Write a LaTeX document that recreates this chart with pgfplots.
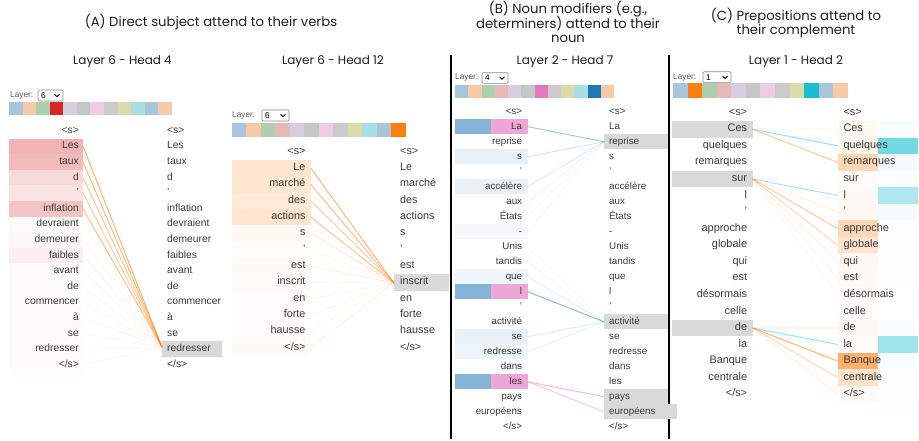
\documentclass[border=0pt]{standalone}
\usepackage{pgfplots}
\pgfplotsset{compat=1.18}
\usepackage{fontspec}
\setmainfont{Liberation Sans}
\newfontfamily\titlefont{Poppins}
\definecolor{tblue}{HTML}{1F77B4}
\definecolor{torange}{HTML}{FF7F0E}
\definecolor{tred}{HTML}{D62728}
\definecolor{tpink}{HTML}{E377C2}
\definecolor{tcyan}{HTML}{17BECF}
\definecolor{LA}{HTML}{A9C5DD}
\definecolor{LB}{HTML}{F4CBA6}
\definecolor{LC}{HTML}{AECFAD}
\definecolor{LD}{HTML}{E6B8B8}
\definecolor{LE}{HTML}{D6CDE1}
\definecolor{LF}{HTML}{C3C8C6}
\definecolor{LG}{HTML}{EECCE4}
\definecolor{LH}{HTML}{CBCBCB}
\definecolor{LI}{HTML}{D9DBAB}
\definecolor{LJ}{HTML}{A9DFE4}
\definecolor{LK}{HTML}{AAC4D9}
\definecolor{LL}{HTML}{F4CBA6}
\definecolor{txt}{HTML}{3A3A3A}
\definecolor{ttl}{HTML}{1E1E1E}
\definecolor{lbl}{HTML}{555555}
\definecolor{hl}{HTML}{D9D9D9}
\protected\def\SS{<s>}
\protected\def\ES{</s>}
\def\fA{\fontsize{10.3}{12}\selectfont}
\def\fAA{\fontsize{10.8}{12}\selectfont}
\def\fB{\fontsize{9.8}{12}\selectfont}
\def\fC{\fontsize{10.9}{12}\selectfont}
\def\lblfont{\fontsize{8.3}{10}\selectfont}
\newcommand\rect[5]{\addplot[draw=none,fill=#5,forget plot] coordinates {(#1,#2) (#3,#2) (#3,#4) (#1,#4)};}
\newcommand\heads[5]{\foreach \cc [count=\ii from 0] in {#5}{%
  \pgfmathsetmacro\xa{#1+#4*\ii}\pgfmathsetmacro\xb{\xa+#4}%
  \edef\temp{\noexpand\rect{\xa}{#2}{\xb}{#3}{\cc}}\temp}}
\newcommand\dropdown[7]{%
  \node[anchor=west,inner sep=0pt,font=\lblfont,text=lbl] at (axis cs:#1,#6) {Layer:};
  \draw[lbl!70,rounded corners=1pt,line width=0.6pt,fill=white] (axis cs:#2,#4) rectangle (axis cs:#3,#5);
  \node[anchor=west,inner sep=0pt,font=\lblfont,text=black,xshift=3pt] at (axis cs:#2,#6) {#7};
  \draw[black,line width=0.9pt] ([xshift=-8.5pt,yshift=1.2pt]axis cs:#3,#6) -- ([xshift=-6pt,yshift=-1.3pt]axis cs:#3,#6) -- ([xshift=-3.5pt,yshift=1.2pt]axis cs:#3,#6);}
\tikzset{tokL/.style={anchor=east,inner sep=0pt,text=txt,text height=0.72em,text depth=0.2em},
 tokR/.style={anchor=west,inner sep=0pt,text=txt,text height=0.72em,text depth=0.2em},
 ttl/.style={inner sep=0pt,text=ttl,font=\titlefont\fontsize{13.2}{15}\selectfont,text height=0.75em,text depth=0.22em},
 sub/.style={inner sep=0pt,text=ttl,font=\titlefont\fontsize{12}{14}\selectfont,text height=0.75em,text depth=0.22em}}
\begin{document}
\begin{tikzpicture}
\begin{axis}[scale only axis,width=919pt,height=439pt,xmin=0,xmax=919,ymin=0,ymax=439,
 y dir=reverse,hide axis,clip=false]
\path (axis cs:0,0) rectangle (axis cs:919,439);
% titles
\node[ttl] at (axis cs:211,24) {(A) Direct subject attend to their verbs};
\node[sub] at (axis cs:122.5,62) {Layer 6 - Head 4};
\node[sub] at (axis cs:333,62) {Layer 6 - Head 12};
\node[ttl] at (axis cs:568,11) {(B) Noun modifiers (e.g.,};
\node[ttl] at (axis cs:568,25.5) {determiners) attend to their};
\node[ttl] at (axis cs:568,39.5) {noun};
\node[ttl] at (axis cs:796,18) {(C) Prepositions attend to};
\node[ttl] at (axis cs:796,32) {their complement};
\node[sub] at (axis cs:565,62) {Layer 2 - Head 7};
\node[sub] at (axis cs:796,62) {Layer 1 - Head 2};
% separators
\addplot[black,line width=2pt,forget plot] coordinates {(451,55) (451,439)};
\addplot[black,line width=2pt,forget plot] coordinates {(669,55) (669,439)};
% ---------------- Panel A1 ----------------
\dropdown{10}{38}{63}{90}{101}{95.5}{6}
\heads{9}{102}{115}{13.58}{LA,LB,LC,tred,LE,LF,LG,LH,LI,LJ,LK,LL}
\rect{162}{341.3}{222}{356.9}{hl}
\foreach \tk/\pp/\op [count=\ii from 0] in {\SS/0/0, Les/35/0.6, taux/32/0.55, d/17/0.45, '/13/0.4, inflation/28/0.5, devraient/2/0.05, demeurer/3/0.06, faibles/8/0.08, avant/2/0.06, de/2/0.05, commencer/2/0.06, à/2/0.06, se/2/0.05, redresser/2/0.04, \ES/2/0.06}{
 \pgfmathsetmacro\yc{130.7+15.6*\ii}\pgfmathsetmacro\ya{\yc-7.8}\pgfmathsetmacro\yb{\yc+7.8}
 \edef\temp{\noexpand\rect{9}{\ya}{83}{\yb}{tred!\pp!white}
  \noexpand\addplot[torange,opacity=\op,line width=1pt,forget plot] coordinates {(83,\yc) (162,347)};
  \noexpand\node[tokL,font=\noexpand\fA] at (axis cs:79,\yc) {\tk};
  \noexpand\node[tokR,font=\noexpand\fA] at (axis cs:167,\yc) {\tk};}\temp}
% ---------------- Panel A2 ----------------
\dropdown{232}{262}{289}{110}{121}{115.5}{6}
\heads{231.7}{122.7}{136.7}{14.5}{LA,LB,LC,LD,LE,LF,LG,LH,LI,LJ,LK,torange}
\rect{394}{274.1}{449}{290.5}{hl}
\foreach \tk/\pp/\op [count=\ii from 0] in {\SS/0/0, Le/20/0.55, marché/19/0.5, des/16/0.4, actions/20/0.45, s/4/0.18, '/2/0.08, est/4/0.1, inscrit/3/0.06, en/2/0.08, forte/2/0.05, hausse/2/0.05, \ES/4/0.1}{
 \pgfmathsetmacro\yc{151.7+16.33*\ii}\pgfmathsetmacro\ya{\yc-8.17}\pgfmathsetmacro\yb{\yc+8.17}
 \edef\temp{\noexpand\rect{231.7}{\ya}{310.7}{\yb}{torange!\pp!white}
  \noexpand\addplot[torange,opacity=\op,line width=1pt,forget plot] coordinates {(310.7,\yc) (394,283)};
  \noexpand\node[tokL,font=\noexpand\fAA] at (axis cs:305.7,\yc) {\tk};
  \noexpand\node[tokR,font=\noexpand\fAA] at (axis cs:400,\yc) {\tk};}\temp}
% ---------------- Panel B ----------------
\dropdown{455}{482}{508}{72.7}{83.3}{78}{4}
\heads{455}{85}{98}{13.25}{LA,LB,LC,LD,LE,LF,tpink,LH,LI,LJ,tblue,LL}
\rect{604}{134.2}{668}{149.2}{hl}
\rect{604}{314.2}{668}{329.2}{hl}
\rect{604}{389.2}{668}{404.2}{hl}
\rect{604}{404.2}{677}{419.2}{hl}
\foreach \tk/\pp [count=\ii from 0] in {\SS/0, La/0, reprise/0, s/10, '/0, accélère/10, aux/0, États/0, -/5, Unis/0, tandis/0, que/7, l/0, '/0, activité/0, se/10, redresse/7, dans/0, les/0, pays/0, européens/0, \ES/0}{
 \pgfmathsetmacro\yc{111.7+15*\ii}\pgfmathsetmacro\ya{\yc-7.5}\pgfmathsetmacro\yb{\yc+7.5}
 \edef\temp{\noexpand\rect{455}{\ya}{527.7}{\yb}{tblue!\pp!white}}\temp}
\rect{455}{119.2}{491}{134.2}{tblue!55!white}
\rect{491}{119.2}{527.7}{134.2}{tpink!65!white}
\rect{455}{284.2}{491}{299.2}{tblue!55!white}
\rect{491}{284.2}{527.7}{299.2}{tpink!65!white}
\rect{455}{374.2}{491}{389.2}{tblue!55!white}
\rect{491}{374.2}{527.7}{389.2}{tpink!65!white}
\foreach \s/\d/\cc/\op in {1/2/tblue/0.4, 3/2/tblue/0.18, 5/2/tblue/0.13, 6/2/tblue/0.07, 7/2/tblue/0.04, 8/2/tblue/0.04, 9/14/tblue/0.04, 10/14/tblue/0.04, 11/14/tblue/0.1, 12/14/tblue/0.5, 15/14/tblue/0.13, 16/14/tblue/0.09, 18/19/tpink/0.5, 18/20/tpink/0.4}{
 \pgfmathsetmacro\ys{111.7+15*\s}\pgfmathsetmacro\yd{111.7+15*\d}
 \edef\temp{\noexpand\addplot[\cc,opacity=\op,line width=1pt,forget plot] coordinates {(527.7,\ys) (604,\yd)};}\temp}
\foreach \tk [count=\ii from 0] in {\SS, La, reprise, s, ', accélère, aux, États, -, Unis, tandis, que, l, ', activité, se, redresse, dans, les, pays, européens, \ES}{
 \pgfmathsetmacro\yc{111.7+15*\ii}
 \edef\temp{\noexpand\node[tokL,font=\noexpand\fB] at (axis cs:522.3,\yc) {\tk};
  \noexpand\node[tokR,font=\noexpand\fB] at (axis cs:609,\yc) {\tk};}\temp}
% ---------------- Panel C ----------------
\dropdown{673}{703}{731}{71.7}{82.7}{77.2}{1}
\heads{673}{83.3}{97.7}{14.58}{LA,torange,LC,LD,LE,LF,LG,LH,LI,tcyan,LK,LL}
\rect{672.3}{120.98}{752.7}{137.54}{hl}
\rect{672.3}{170.66}{752.7}{187.22}{hl}
\rect{672.3}{319.72}{752.7}{336.28}{hl}
\foreach \tk/\po/\pc [count=\ii from 0] in {\SS/0/0, Ces/5/3, quelques/7/60, remarques/30/5, sur/3/2, l/4/35, '/5/4, approche/30/2, globale/20/2, qui/6/2, est/5/2, désormais/2/1, celle/2/1, de/6/3, la/3/42, Banque/60/3, centrale/22/2, \ES/4/2}{
 \pgfmathsetmacro\yc{112.7+16.56*\ii}\pgfmathsetmacro\ya{\yc-8.28}\pgfmathsetmacro\yb{\yc+8.28}
 \edef\temp{\noexpand\rect{837.7}{\ya}{877.7}{\yb}{torange!\po!white}
  \noexpand\rect{877.7}{\ya}{918}{\yb}{tcyan!\pc!white}}\temp}
\foreach \s/\d/\cc/\op in {1/2/tcyan/0.42, 1/3/torange/0.38, 1/1/torange/0.06, 4/5/tcyan/0.35, 4/7/torange/0.38, 4/8/torange/0.28, 4/6/torange/0.1, 4/9/torange/0.1, 4/10/torange/0.07, 4/11/torange/0.05, 13/14/tcyan/0.4, 13/15/torange/0.55, 13/16/torange/0.28, 13/17/torange/0.1, 13/13/torange/0.08}{
 \pgfmathsetmacro\ys{112.7+16.56*\s}\pgfmathsetmacro\yd{112.7+16.56*\d}
 \edef\temp{\noexpand\addplot[\cc,opacity=\op,line width=1.1pt,forget plot] coordinates {(752.7,\ys) (837.7,\yd)};}\temp}
\foreach \tk [count=\ii from 0] in {\SS, Ces, quelques, remarques, sur, l, ', approche, globale, qui, est, désormais, celle, de, la, Banque, centrale, \ES}{
 \pgfmathsetmacro\yc{112.7+16.56*\ii}
 \edef\temp{\noexpand\node[tokL,font=\noexpand\fC] at (axis cs:747.3,\yc) {\tk};
  \noexpand\node[tokR,font=\noexpand\fC] at (axis cs:843.3,\yc) {\tk};}\temp}
\end{axis}
\end{tikzpicture}
\end{document}
